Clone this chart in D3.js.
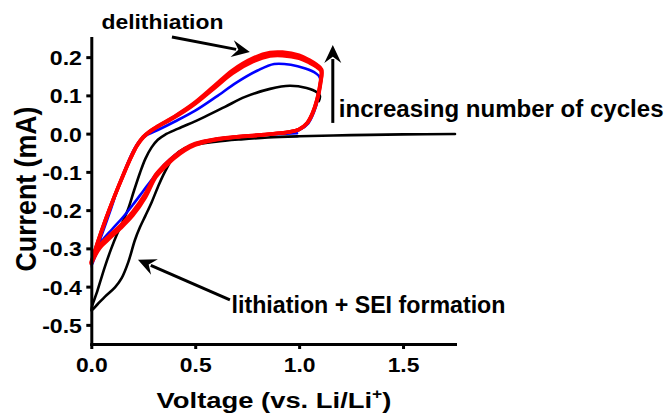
<!DOCTYPE html>
<html>
<head>
<meta charset="utf-8">
<script src="https://cdn.jsdelivr.net/npm/d3@7"></script>
<style>
  body { margin: 0; background: #fff; }
  svg { display: block; }
  text { font-family: "Liberation Sans", Arial, sans-serif; font-weight: bold; fill: #000; }
</style>
</head>
<body>
<svg id="chart" width="668" height="419"></svg>
<script>
// Axis ticks
const voltageTicks = [0, 0.5, 1.0, 1.5];
const currentTicks = [-0.5, -0.4, -0.3, -0.2, -0.1, 0.0, 0.1, 0.2];

// Cyclic voltammograms, [voltage (V), current (mA)] in sweep order
// Cycle 1: first lithiation from open circuit, then delithiation up to 1.1 V
const cycle1 = [
  [1.75, -0.001], [1.5, -0.002], [1.25, -0.004], [1.0, -0.007], [0.85, -0.010],
  [0.72, -0.015], [0.6, -0.021], [0.5, -0.029], [0.45, -0.038], [0.40, -0.058],
  [0.354, -0.100], [0.32, -0.140], [0.29, -0.180], [0.26, -0.215], [0.234, -0.245],
  [0.21, -0.278], [0.178, -0.336], [0.146, -0.378], [0.114, -0.402], [0.066, -0.426],
  [0.03, -0.446], [0.0, -0.462],
  [0.03, -0.410], [0.066, -0.347], [0.095, -0.302], [0.122, -0.265], [0.15, -0.232],
  [0.178, -0.196], [0.205, -0.150], [0.234, -0.103], [0.26, -0.066], [0.29, -0.036],
  [0.32, -0.016], [0.354, -0.003], [0.418, 0.013], [0.53, 0.040], [0.643, 0.070],
  [0.74, 0.096], [0.86, 0.117], [0.955, 0.125], [1.036, 0.119], [1.085, 0.108],
  [1.10, 0.098], [1.095, 0.085]
];

// Cycle 2
const cycle2 = [
  [0.99, 0.001], [0.9, -0.001], [0.8, -0.004], [0.7, -0.008], [0.6, -0.014],
  [0.5, -0.026], [0.45, -0.039], [0.4, -0.057], [0.35, -0.082], [0.3, -0.114],
  [0.25, -0.150], [0.2, -0.186], [0.15, -0.220], [0.1, -0.250], [0.05, -0.282],
  [0.0, -0.347],
  [0.025, -0.304], [0.05, -0.265], [0.09, -0.204], [0.13, -0.140], [0.17, -0.084],
  [0.2, -0.047], [0.23, -0.021], [0.27, -0.003], [0.33, 0.012], [0.4, 0.031],
  [0.5, 0.060], [0.6, 0.096], [0.7, 0.134], [0.8, 0.165], [0.88, 0.182],
  [0.96, 0.180], [1.03, 0.170], [1.08, 0.158], [1.10, 0.146], [1.092, 0.095],
  [1.072, 0.057], [1.044, 0.027], [1.0, 0.009], [0.96, 0.002]
];

// Cycles 3-5
const cycle3 = [
  [0.0, -0.336], [0.03, -0.284], [0.07, -0.222], [0.11, -0.166], [0.15, -0.114],
  [0.19, -0.064], [0.22, -0.032], [0.25, -0.010], [0.28, 0.004], [0.32, 0.018],
  [0.4, 0.042], [0.49, 0.074], [0.59, 0.118], [0.68, 0.158], [0.78, 0.189],
  [0.86, 0.203], [0.92, 0.204], [1.0, 0.197], [1.05, 0.185], [1.085, 0.174],
  [1.105, 0.164], [1.10, 0.128], [1.085, 0.088], [1.064, 0.054], [1.037, 0.027],
  [1.0, 0.011], [0.95, 0.004], [0.9, 0.001], [0.8, -0.004], [0.7, -0.008],
  [0.6, -0.014], [0.5, -0.026], [0.45, -0.039], [0.4, -0.058], [0.35, -0.083],
  [0.31, -0.107], [0.26, -0.157], [0.2, -0.204], [0.14, -0.240], [0.09, -0.265],
  [0.04, -0.292], [0.0, -0.334]
];
const cycle4 = [
  [0.0, -0.338], [0.03, -0.286], [0.07, -0.223], [0.11, -0.166], [0.15, -0.113],
  [0.19, -0.063], [0.22, -0.031], [0.25, -0.009], [0.28, 0.005], [0.32, 0.019],
  [0.4, 0.044], [0.49, 0.076], [0.59, 0.121], [0.68, 0.163], [0.78, 0.195],
  [0.86, 0.209], [0.92, 0.210], [1.0, 0.202], [1.05, 0.190], [1.085, 0.178],
  [1.107, 0.167], [1.102, 0.130], [1.087, 0.090], [1.066, 0.055], [1.039, 0.028],
  [1.0, 0.011], [0.95, 0.004], [0.9, 0.001], [0.8, -0.004], [0.7, -0.008],
  [0.6, -0.015], [0.5, -0.028], [0.45, -0.041], [0.4, -0.061], [0.35, -0.086],
  [0.31, -0.110], [0.26, -0.162], [0.2, -0.209], [0.14, -0.244], [0.09, -0.269],
  [0.04, -0.296], [0.0, -0.337]
];
const cycle5 = [
  [0.0, -0.340], [0.03, -0.287], [0.07, -0.224], [0.11, -0.166], [0.15, -0.112],
  [0.19, -0.062], [0.22, -0.030], [0.25, -0.008], [0.28, 0.006], [0.32, 0.020],
  [0.4, 0.045], [0.49, 0.078], [0.59, 0.124], [0.68, 0.166], [0.78, 0.198],
  [0.86, 0.212], [0.92, 0.213], [1.0, 0.205], [1.05, 0.192], [1.085, 0.180],
  [1.108, 0.168], [1.103, 0.130], [1.088, 0.090], [1.067, 0.055], [1.04, 0.028],
  [1.0, 0.011], [0.95, 0.004], [0.9, 0.001], [0.8, -0.005], [0.7, -0.009],
  [0.6, -0.016], [0.5, -0.030], [0.45, -0.044], [0.4, -0.064], [0.35, -0.090],
  [0.31, -0.114], [0.26, -0.167], [0.2, -0.214], [0.14, -0.248], [0.09, -0.273],
  [0.04, -0.300], [0.0, -0.340]
];

// Annotation text anchors and arrows, in data units
const noteTexts = ["delithiation", "increasing number of cycles", "lithiation + SEI formation"];
const noteAnchors = [[0.049, 0.2724], [1.191, 0.0444], [0.675, -0.4695]];
const noteWidths = [122, 325, 274];
const noteSizes = [21, 23, 23];
const arrowTails = [[0.388, 0.2525], [1.162, 0.028], [0.667, -0.4345]];
const arrowTips = [[0.763, 0.2133], [1.162, 0.2316], [0.2245, -0.330]];

const svg = d3.select("#chart");
const x = d3.scaleLinear().domain([0, 1.75]).range([91.3, 455]);
const y = d3.scaleLinear().domain([-0.55, 0.25]).range([344, 38]);

// Curves
const line = d3.line()
  .x(d => x(d[0]))
  .y(d => y(d[1]))
  .curve(d3.curveCatmullRom.alpha(0.5));

const series = [
  { data: cycle1, color: "#000000", width: 2.6 },
  { data: cycle2, color: "#0000ff", width: 2.6 },
  { data: cycle3, color: "#ff0000", width: 3.6 },
  { data: cycle4, color: "#ff0000", width: 3.6 },
  { data: cycle5, color: "#ff0000", width: 3.6 }
];

svg.append("g").selectAll("path")
  .data(series)
  .join("path")
  .attr("d", d => line(d.data))
  .attr("fill", "none")
  .attr("stroke", d => d.color)
  .attr("stroke-width", d => d.width)
  .attr("stroke-linejoin", "round")
  .attr("stroke-linecap", "round");

// Axes
const xAxis = d3.axisBottom(x).tickValues(voltageTicks).tickFormat(d3.format(".1f"))
  .tickSize(5).tickSizeOuter(0).tickPadding(8);
const yAxis = d3.axisLeft(y).tickValues(currentTicks).tickFormat(d3.format(".1f"))
  .tickSize(5).tickSizeOuter(0).tickPadding(3.5);

const gx = svg.append("g").attr("transform", `translate(0,${y(-0.55)})`).call(xAxis);
const gy = svg.append("g").attr("transform", `translate(${x(0)},0)`).call(yAxis);

[gx, gy].forEach(g => {
  g.attr("font-family", null).attr("font-size", null);
  g.select(".domain").attr("stroke", "#000").attr("stroke-width", 3).attr("stroke-linecap", "square");
  g.selectAll(".tick line").attr("stroke", "#000").attr("stroke-width", 3);
  g.selectAll(".tick text").style("font-size", "21px");
});
gx.selectAll(".tick text").attr("transform", "scale(1.09,1)")
  .text(d => d3.format(".1f")(d));
gy.selectAll(".tick text").attr("dy", "0.36em")
  .attr("transform", "scale(1.1,1)")
  .text(d => d3.format(".1f")(d).replace("−", "-"));

// Axis titles
const xt = svg.append("text")
  .attr("text-anchor", "middle")
  .style("font-size", "22px");
xt.append("tspan").text("Voltage (vs. Li/Li");
xt.append("tspan").text("+").style("font-size", "14px").attr("dy", -9);
xt.append("tspan").text(")").attr("dy", 9);
{
  const w = xt.node().getBBox().width;
  xt.attr("transform", `translate(274,408.3) scale(${235 / w},1)`);
}

const yt = svg.append("text")
  .attr("text-anchor", "middle")
  .style("font-size", "26px")
  .text("Current (mA)");
{
  const w = yt.node().getBBox().width;
  yt.attr("transform", `translate(36,189) rotate(-90) scale(${165 / w},1.15)`);
}

// Annotations
noteTexts.forEach((t, i) => {
  const el = svg.append("text")
    .style("font-size", noteSizes[i] + "px")
    .text(t);
  const w = el.node().getBBox().width;
  const [v, c] = noteAnchors[i];
  el.attr("transform", `translate(${x(v)},${y(c)}) scale(${noteWidths[i] / w},1)`);
});

function arrow(tail, tip) {
  const x0 = x(tail[0]), y0 = y(tail[1]), x1 = x(tip[0]), y1 = y(tip[1]);
  const ang = Math.atan2(y1 - y0, x1 - x0);
  const headLen = 18, headHalf = 8.5;
  const bx = x1 - headLen * Math.cos(ang), by = y1 - headLen * Math.sin(ang);
  const g = svg.append("g");
  g.append("line")
    .attr("x1", x0).attr("y1", y0)
    .attr("x2", x1 - (headLen - 4) * Math.cos(ang)).attr("y2", y1 - (headLen - 4) * Math.sin(ang))
    .attr("stroke", "#000").attr("stroke-width", 3);
  const px = -Math.sin(ang), py = Math.cos(ang);
  g.append("path")
    .attr("d", `M${x1},${y1}L${bx + headHalf * px},${by + headHalf * py}L${bx + 0.35 * headLen * Math.cos(ang)},${by + 0.35 * headLen * Math.sin(ang)}L${bx - headHalf * px},${by - headHalf * py}Z`)
    .attr("fill", "#000");
}
arrowTails.forEach((t, i) => arrow(t, arrowTips[i]));
</script>
</body>
</html>
